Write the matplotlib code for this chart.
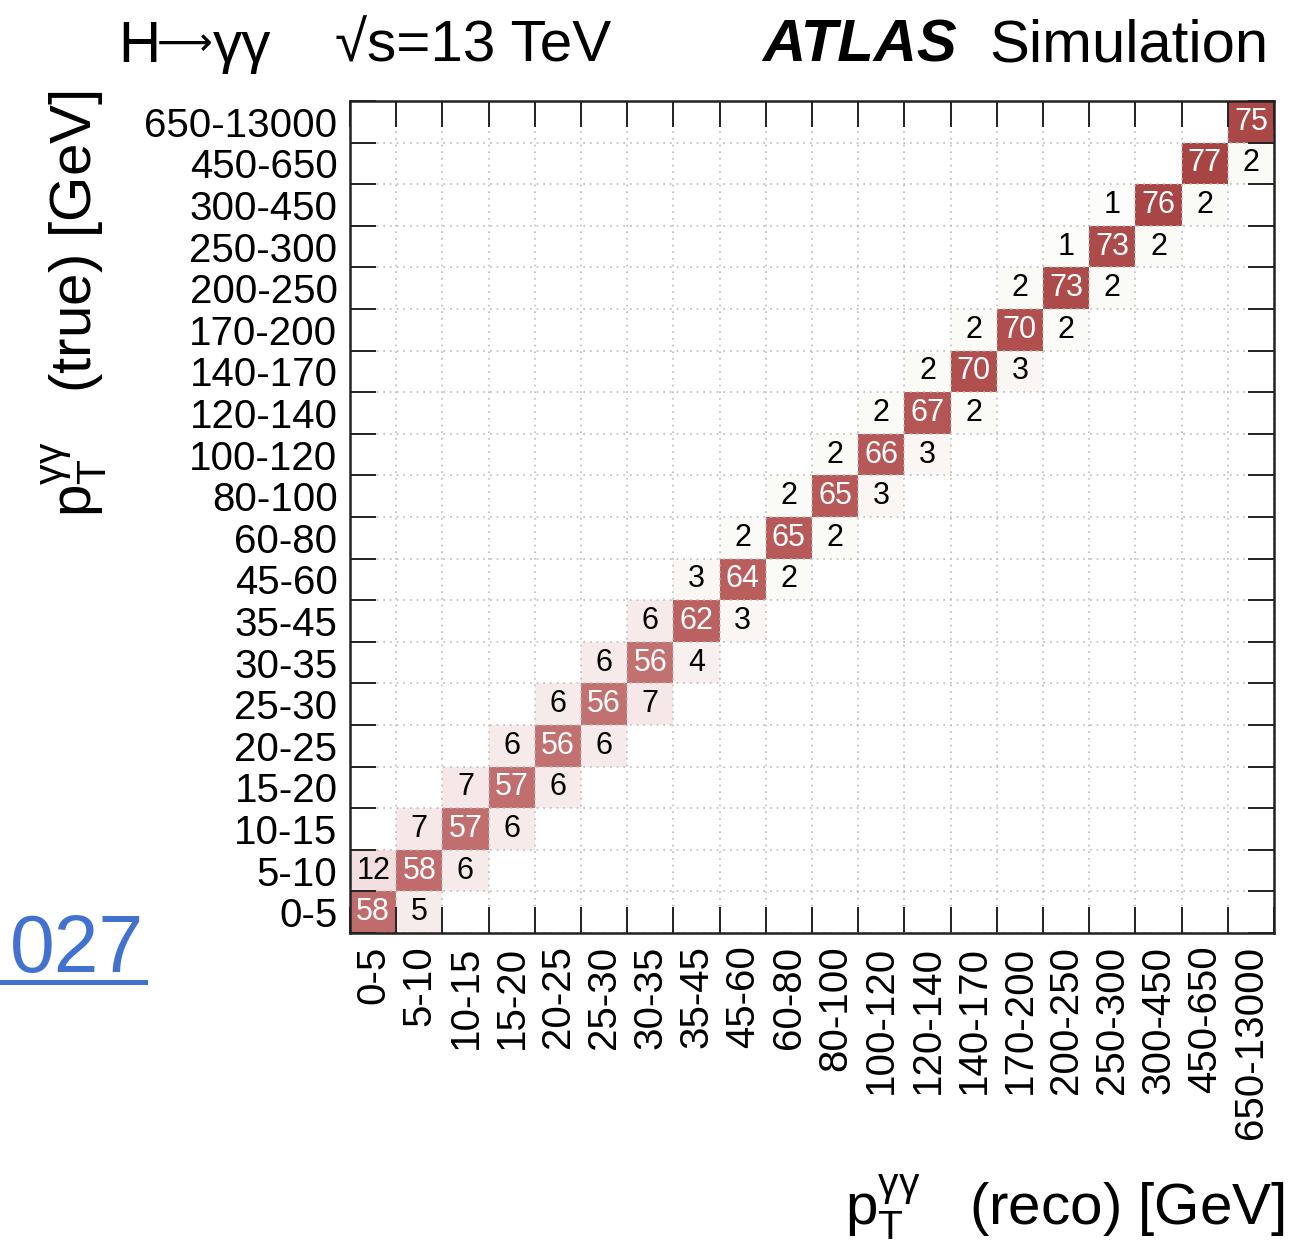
import numpy as np
import matplotlib
matplotlib.use("Agg")
import matplotlib.pyplot as plt
from matplotlib.colors import LinearSegmentedColormap, Normalize
from matplotlib.lines import Line2D

# Bin labels (GeV) shared by reco (x) and true (y) axes
bins = ["0-5", "5-10", "10-15", "15-20", "20-25", "25-30", "30-35", "35-45",
        "45-60", "60-80", "80-100", "100-120", "120-140", "140-170", "170-200",
        "200-250", "250-300", "300-450", "450-650", "650-13000"]

# Migration fractions [%] for each true bin: diagonal, one reco bin lower, one higher
diag = [58, 58, 57, 57, 56, 56, 56, 62, 64, 65, 65, 66, 67, 70, 70, 73, 73, 76, 77, 75]
below = [None, 12, 7, 7, 6, 6, 6, 6, 3, 2, 2, 2, 2, 2, 2, 2, 1, 1, None, None]
above = [5, 6, 6, 6, 6, 7, 4, 3, 2, 2, 3, 3, 2, 3, 2, 2, 2, 2, 2, None]

n = len(bins)
M = np.zeros((n, n))
for i in range(n):
    M[i, i] = diag[i]
    if below[i] is not None:
        M[i, i - 1] = below[i]
    if above[i] is not None:
        M[i, i + 1] = above[i]

plt.rcParams['font.family'] = ['Liberation Sans', 'DejaVu Sans']
plt.rcParams['mathtext.fontset'] = 'custom'
plt.rcParams['mathtext.rm'] = 'Liberation Sans'
plt.rcParams['mathtext.it'] = 'Liberation Sans:italic'
plt.rcParams['mathtext.bf'] = 'Liberation Sans:bold'

W, H = 1292, 1251
fig = plt.figure(figsize=(W / 100, H / 100), dpi=100)


def px(x, y):
    return x / W, 1 - y / H


ax = fig.add_axes([350 / W, 1 - 933 / H, 924 / W, 832 / H])

vmax = 80.0
cmap = LinearSegmentedColormap.from_list("atlas_red", [
    (0.0, "#ffffff"),
    (1.5 / vmax, "#fbfbf9"),
    (2.5 / vmax, "#f9f8f5"),
    (4.0 / vmax, "#f7eeee"),
    (6.5 / vmax, "#f6e9e9"),
    (12.0 / vmax, "#f3dfdf"),
    (56.0 / vmax, "#c27171"),
    (65.0 / vmax, "#b85a5a"),
    (73.0 / vmax, "#ad4a4a"),
    (77.0 / vmax, "#a84444"),
    (1.0, "#a23c3c"),
])

edges = np.arange(n + 1)
ax.pcolormesh(edges, edges, M, cmap=cmap, norm=Normalize(0, vmax),
              linewidth=0, zorder=1)

for i in range(n):
    for j in range(n):
        v = M[i, j]
        if v > 0:
            ax.text(j + 0.5, i + 0.5, f"{int(v)}", ha="center", va="center",
                    fontsize=22, color="white" if v > 30 else "black", zorder=4)

ax.set_xlim(0, n)
ax.set_ylim(0, n)

# Ticks at bin edges, labels at bin centres
ax.set_xticks(edges)
ax.set_yticks(edges)
ax.set_xticklabels([])
ax.set_yticklabels([])
ax.set_xticks(edges[:-1] + 0.5, minor=True)
ax.set_yticks(edges[:-1] + 0.5, minor=True)
ax.set_xticklabels(bins, minor=True, rotation=90, fontsize=29)
ax.set_yticklabels(bins, minor=True, fontsize=29)
ax.tick_params(which="major", direction="in", length=19, width=1.4,
               color="#222222", top=True, right=True)
ax.tick_params(which="minor", length=0, pad=9)

ax.grid(which="major", color="#bbbbbb", linestyle=(0, (1, 3)), linewidth=1.2,
        zorder=3)
ax.set_axisbelow(False)
for s in ax.spines.values():
    s.set_linewidth(1.8)
    s.set_color("#222222")
    s.set_zorder(5)

# Header texts
fig.text(*px(118, 62), "H", fontsize=42, va="baseline", ha="left")
fig.text(*px(157, 55), "\u27f6", fontsize=28, va="baseline", ha="left",
         family="DejaVu Sans")
fig.text(*px(213, 62), "\u03b3\u03b3", fontsize=42, va="baseline", ha="left")
fig.text(*px(335, 62), "\u221as=13 TeV", fontsize=42, va="baseline", ha="left")
fig.text(*px(762, 62), "ATLAS", fontsize=43, va="baseline", ha="left",
         fontweight="bold", fontstyle="italic")
fig.text(*px(1268, 62), "Simulation", fontsize=43, va="baseline", ha="right")

# Axis titles
fig.text(*px(75, 90), r"$\mathrm{p}_{\mathrm{T}}^{\mathrm{\gamma\gamma}}$   (true) [GeV]",
         fontsize=42, rotation=90, ha="center", va="top")
fig.text(*px(1285, 1225), r"$\mathrm{p}_{\mathrm{T}}^{\mathrm{\gamma\gamma}}$   (reco) [GeV]",
         fontsize=42, ha="right", va="baseline")

# Link fragment at the lower left
fig.text(*px(10, 972), "027", fontsize=58, color="#4272d0", ha="left", va="baseline")
fig.add_artist(Line2D([0, 145 / W], [1 - 982 / H] * 2, color="#4272d0",
                      linewidth=3.6, transform=fig.transFigure))

fig.savefig("out.png", dpi=100)
